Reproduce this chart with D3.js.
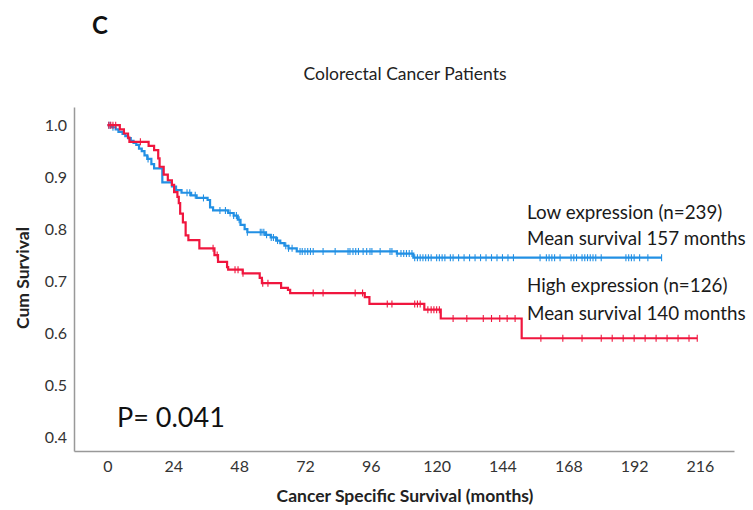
<!DOCTYPE html>
<html><head><meta charset="utf-8">
<script src="https://cdn.jsdelivr.net/npm/d3@7"></script>
<style>body{margin:0;background:#fff}svg{display:block}text{font-family:Lato,"Open Sans",sans-serif}</style>
</head><body><svg id="c" width="753" height="510"></svg>
<script>
// ---- data ----
const xTicks = [0,24,48,72,96,120,144,168,192,216];
const yTicks = [0.4,0.5,0.6,0.7,0.8,0.9,1.0];
// Low expression (blue): [month, survival after step]
const lowSteps = [[0,1.0],[1.5,0.996],[3,0.992],[4,0.987],[5.5,0.983],[6.5,0.979],[7.5,0.975],[8.5,0.970],[9.5,0.966],[10.5,0.962],[11.5,0.955],[12.5,0.950],[13.5,0.942],[14.5,0.935],[16,0.925],[17,0.917],[20,0.890],[23.5,0.882],[25,0.875],[27,0.870],[30.5,0.865],[32.5,0.860],[36.5,0.856],[37.4,0.842],[38.5,0.836],[44,0.831],[46,0.826],[47.5,0.818],[48.5,0.808],[50,0.800],[51,0.794],[57.5,0.789],[59.5,0.784],[61.5,0.778],[63,0.773],[64.5,0.768],[66,0.763],[69,0.757],[105.5,0.753],[111.5,0.745]];
const lowEnd = 202;
const lowCensor = [0.5,1,2,14.8,29,30,32,35,41,43,44.7,46,47,48,51,55.7,56.3,57,58,59.7,60.5,62,65,66,67.3,70.2,71,72,73,74,75,78.6,83,87.7,88.4,89.5,90.5,91.5,93.2,94.5,95.7,96.4,99.4,103,103.7,105.6,107,108,109,110,111,112,113,114,115,116,117,118,120,121,122,123,125,126,128,130,132,134,136,138,140,142,144,146,148,157.7,160,161,162,163,165,169,170,171,173,174,175,176,177,178,180,189,190,191,192,194,197,202];
// High expression (red)
const highSteps = [[0,1.0],[4.5,0.992],[6,0.984],[7.5,0.976],[8,0.968],[15,0.960],[17,0.952],[18.5,0.936],[19,0.920],[20.5,0.905],[22,0.894],[23.5,0.885],[24.3,0.871],[25.5,0.862],[26,0.850],[26.5,0.830],[27.5,0.813],[28.5,0.788],[29.5,0.779],[33.5,0.763],[39,0.750],[40.3,0.737],[43.6,0.727],[44,0.722],[49.3,0.715],[55.5,0.706],[56.3,0.696],[63.3,0.687],[65.8,0.683],[66.6,0.677],[93.8,0.669],[95.5,0.656],[115.5,0.645],[121.5,0.628],[151,0.590]];
const highEnd = 215;
const highCensor = [0.5,1.2,2,3,12,38.5,40,46.5,47.6,49.4,56.6,58.5,75,78.6,90.3,93,102,103.7,112,113,114,116.8,118,119,120,121,126,131,137,140,143,145.7,148.6,158,166,173,180,184,188,192,196,200,204,208,212,215];
const legendLines = [["Low expression (n=239)","Mean survival 157 months"],["High expression (n=126)","Mean survival 140 months"]];
const colors = ["#2290e4","#f0163e"];

// ---- chart ----
const svg = d3.select("#c");
const x = d3.scaleLinear().domain([-12.2,228.4]).range([74,734]);
const y = d3.scaleLinear().domain([0.373,1.035]).range([451,107]);

svg.append("text").attr("x",100).attr("y",34).attr("text-anchor","middle")
  .attr("font-size",24).attr("font-weight","bold").attr("fill","#111").text("C");
svg.append("text").attr("x",405).attr("y",80).attr("text-anchor","middle")
  .attr("font-size",17.5).attr("fill","#222").text("Colorectal Cancer Patients");

const gx = svg.append("g").attr("transform","translate(0,451)")
  .call(d3.axisBottom(x).tickValues(xTicks).tickSize(0).tickPadding(10));
const gy = svg.append("g").attr("transform","translate(74,0)")
  .call(d3.axisLeft(y).tickValues(yTicks).tickFormat(d3.format(".1f")).tickSize(0).tickPadding(7));
[gx,gy].forEach(g=>{
  g.select(".domain").attr("stroke","#999").attr("stroke-width",1.5);
  g.selectAll("text").attr("font-size",16).attr("fill","#333").attr("font-family","Lato, sans-serif");
});

svg.append("text").attr("x",405).attr("y",502).attr("text-anchor","middle")
  .attr("font-size",17.5).attr("font-weight","bold").attr("fill","#222").text("Cancer Specific Survival (months)");
svg.append("text").attr("transform","translate(29,278) rotate(-90)").attr("text-anchor","middle")
  .attr("font-size",17.5).attr("font-weight","bold").attr("fill","#222").text("Cum Survival");

function survAt(steps,t){let v=1;for(const s of steps){if(s[0]<=t)v=s[1];}return v;}
const line = d3.line().x(d=>x(d[0])).y(d=>y(d[1])).curve(d3.curveStepAfter);
[[lowSteps,lowEnd,lowCensor],[highSteps,highEnd,highCensor]].forEach(([st,end,cen],i)=>{
  const pts = st.concat([[end, st[st.length-1][1]]]);
  svg.append("path").datum(pts).attr("d",line).attr("fill","none")
    .attr("stroke",colors[i]).attr("stroke-width",2.2);
  svg.append("g").selectAll("line").data(cen).join("line")
    .attr("x1",d=>x(d)).attr("x2",d=>x(d))
    .attr("y1",d=>y(survAt(st,d))-3.5).attr("y2",d=>y(survAt(st,d))+3.5)
    .attr("stroke",colors[i]).attr("stroke-width",1.1);
});

const ly = [[219,245],[292,320]];
legendLines.forEach((pair,i)=>pair.forEach((t,j)=>{
  svg.append("text").attr("x",527).attr("y",ly[i][j]).attr("font-size",18.8)
    .attr("fill","#1a1a1a").text(t);
}));
svg.append("text").attr("x",117).attr("y",427).attr("font-size",27).attr("fill","#111").text("P= 0.041");
</script></body></html>
